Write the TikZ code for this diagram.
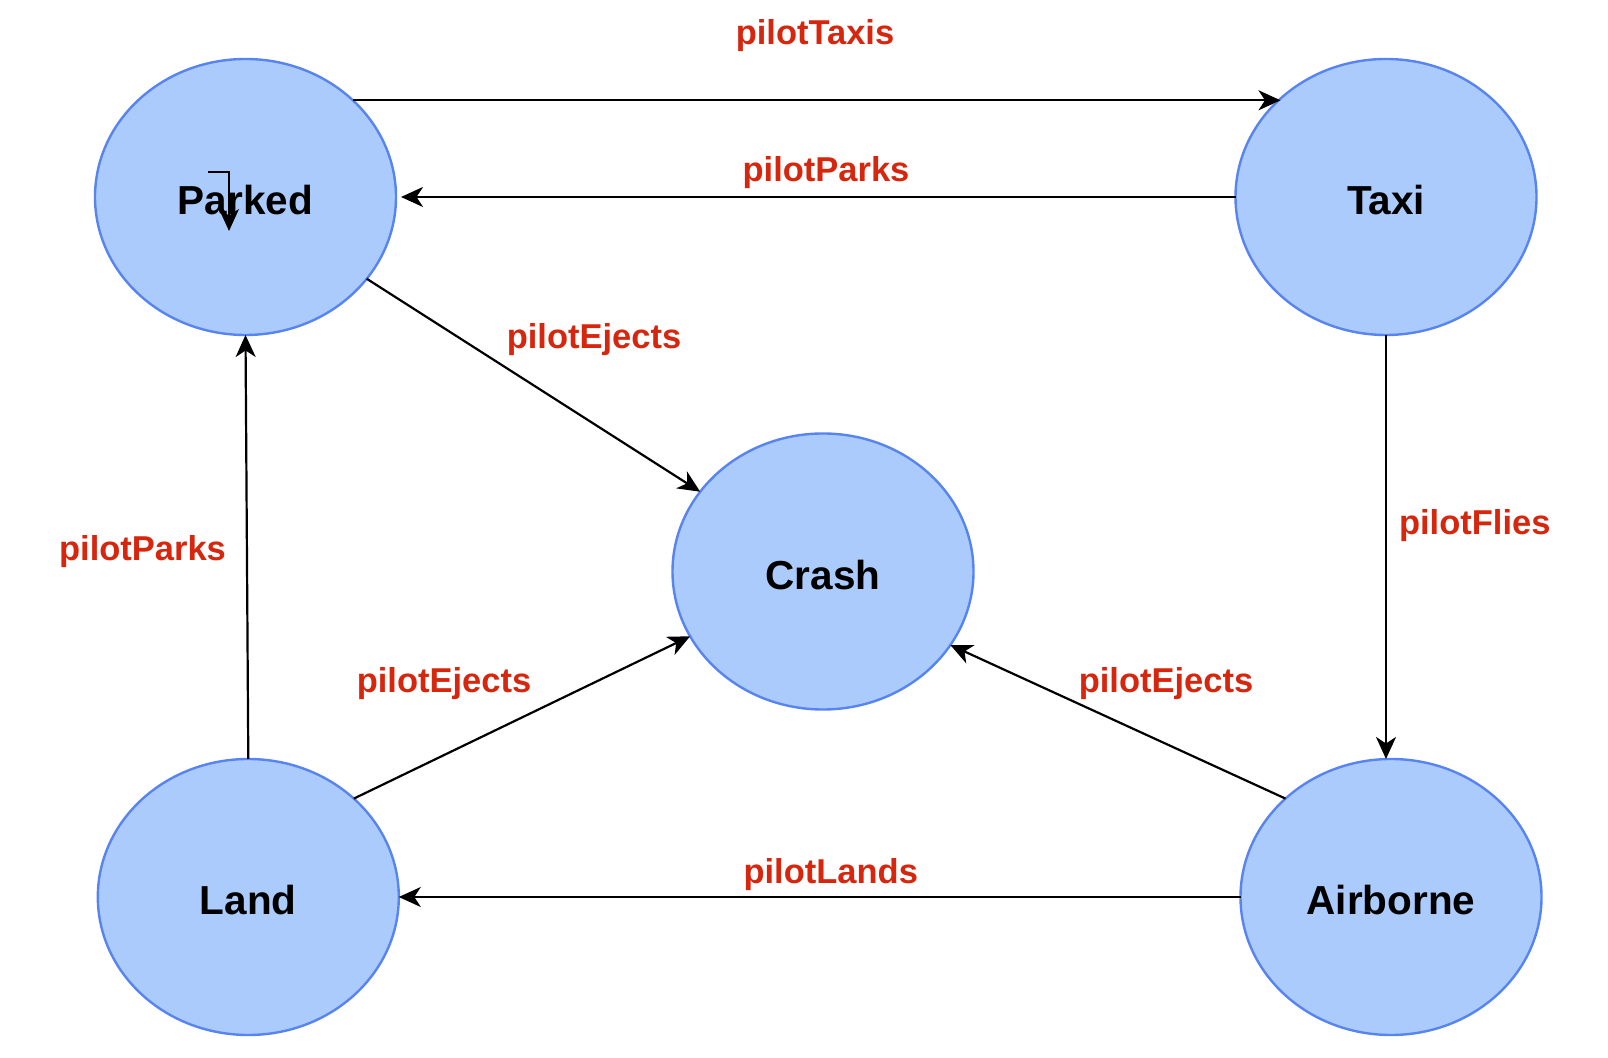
\documentclass[tikz,border=0pt]{standalone}
\usepackage{fontspec}
\setmainfont{Liberation Sans}
\usetikzlibrary{shapes.geometric,arrows.meta}
\definecolor{nodefill}{RGB}{170,203,251}
\definecolor{nodeline}{RGB}{88,132,242}
\definecolor{labred}{RGB}{214,38,14}
\tikzset{
  x=1pt,y=1pt,
  state/.style={ellipse,draw=nodeline,fill=nodefill,line width=2.4pt,
    minimum width=301pt,minimum height=276pt,inner sep=0pt,outer sep=0pt,
    text height=36pt,text depth=0pt,
    font=\fontsize{40.5}{48}\selectfont\bfseries},
  arr/.style={draw=black,line width=2.2pt,-{Stealth[length=22pt,width=20pt,inset=6.5pt]}},
  lab/.style={text=labred,anchor=base,inner sep=0pt,font=\fontsize{34.5}{41}\selectfont\bfseries}
}
\begin{document}
\begin{tikzpicture}
\useasboundingbox (0,0) rectangle (1608,1057);
\node[state] (Parked) at (245.5,860) {Parked};
\node[state] (Taxi) at (1386,860) {Taxi};
\node[state] (Crash) at (823,485.5) {Crash};
\node[state] (Land) at (248.3,160) {Land};
\node[state] (Airborne) at (1391,160) {Airborne};

\draw[arr] (Parked.42.6) -- (Parked.42.6 -| Taxi.137.6);
\draw[arr] (Taxi.west) -- ([xshift=5pt]Parked.east);
\draw[arr] (Parked.-34.8) -- (Crash.147.2);
\draw[arr] (Land.north) -- (Parked.south);
\draw[arr] (Land.43.2) -- (Crash.-154.1);
\draw[arr] (Airborne.137.2) -- (Crash.-30.3);
\draw[arr] (Taxi.south) -- (Taxi.south |- Airborne.north);
\draw[arr] (Airborne.west) -- (Land.east);
\draw[arr,line width=1.8pt] ([shift={(-37.2,25.3)}]Parked.center) -| ([shift={(-16.5,-34)}]Parked.center);

\node[lab] (l1) at (815,1012) {pilotTaxis};
\node[lab] (l2) at (826,875.3) {pilotParks};
\node[lab] (l3) at (594,708) {pilotEjects};
\node[lab] (l4) at (142.5,496) {pilotParks};
\node[lab] (l5) at (1474.7,522) {pilotFlies};
\node[lab] (l6) at (444,364) {pilotEjects};
\node[lab] (l7) at (1166,364) {pilotEjects};
\node[lab] (l8) at (830.7,173.3) {pilotLands};
\end{tikzpicture}
\end{document}
